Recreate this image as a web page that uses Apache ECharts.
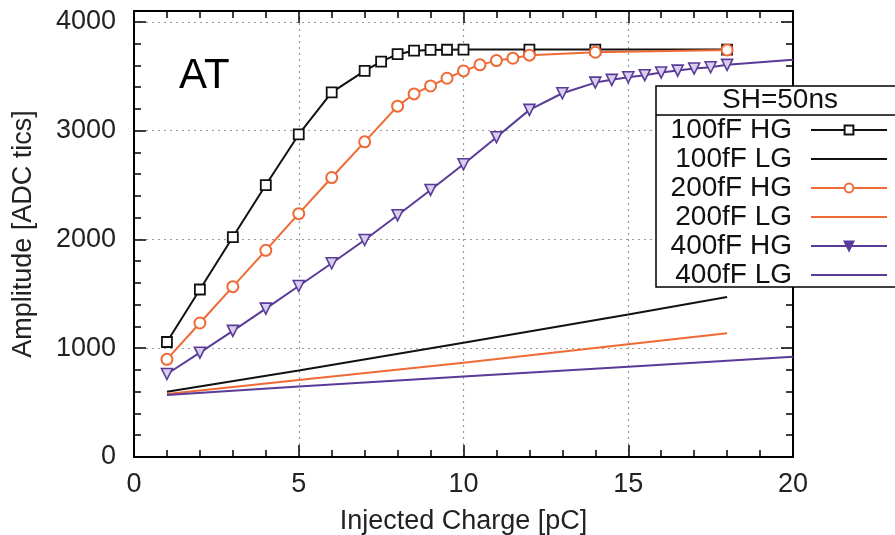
<!DOCTYPE html>
<html>
<head>
<meta charset="utf-8">
<script src="https://cdn.jsdelivr.net/npm/echarts@6/dist/echarts.min.js"></script>
<style>html,body{margin:0;padding:0;background:#fff}#c{width:895px;height:535px}</style>
</head>
<body>
<div id="c"></div>
<script>
// ---- data ----
const hg100X = [1,2,3,4,5,6,7,7.5,8,8.5,9,9.5,10,12,14,18];
const hg100Y = [1057,1540,2022,2500,2965,3352,3549,3634,3703,3735,3742,3744,3745,3745,3745,3745];
const lg100X = [1,5,10,15,18];
const lg100Y = [600,795,1050,1310,1470];
const hg200X = [1,2,3,4,5,6,7,8,8.5,9,9.5,10,10.5,11,11.5,12,14,18];
const hg200Y = [898,1232,1566,1900,2237,2569,2897,3225,3338,3411,3482,3549,3605,3644,3666,3694,3721,3742];
const lg200X = [1,5,10,15,18];
const lg200Y = [579,708,867,1036,1137];
const hg400X = [1,2,3,4,5,6,7,8,9,10,11,12,13,14,14.5,15,15.5,16,16.5,17,17.5,18,20];
const hg400Y = [763,959,1159,1364,1572,1781,1995,2222,2455,2691,2940,3191,3344,3442,3467,3491,3510,3534,3552,3571,3583,3605,3651];
const lg400X = [1,5,10,15,20];
const lg400Y = [570,647,739,830,922];
const seriesNames = ['100fF HG','100fF LG','200fF HG','200fF LG','400fF HG','400fF LG'];
const legendTitle = 'SH=50ns';
const plotLabel = 'AT';
const xTitle = 'Injected Charge [pC]';
const yTitle = 'Amplitude [ADC tics]';

const BLACK = '#111111', ORANGE = '#ef6a35', PURPLE = '#5a3b98';
const FONT = 'Liberation Sans';
const zip = (xs, ys) => xs.map((x, i) => [x, ys[i]]);

const chart = echarts.init(document.getElementById('c'), null, {renderer: 'canvas'});
const tickStyle = {show: true, inside: true, length: 12, lineStyle: {color: '#000', width: 1.5}};
const minorStyle = {show: true, splitNumber: 5, length: 7, lineStyle: {color: '#000', width: 1.5}};
const lineAx = {show: true, onZero: false, lineStyle: {color: '#000', width: 2}};
const splitDot = {show: true, lineStyle: {color: '#9a9a9a', width: 1.2, type: [2, 4]}};
const LINE_ICON = 'path://M0,0L76,0L76,2L0,2Z';

const hg400Data = zip(hg400X, hg400Y).map((p, i) => i === hg400X.length - 1 ? {value: p, symbol: 'none'} : p);

chart.setOption({
  animation: false,
  backgroundColor: '#fff',
  title: {text: plotLabel, left: 174, top: 50, textStyle: {fontFamily: FONT, fontSize: 42, fontWeight: 'normal', color: '#000'}},
  grid: {left: 134, right: 102, top: 11, bottom: 78, outerBoundsMode: 'none', containLabel: false},
  xAxis: [
    {type: 'value', min: 0, max: 20, interval: 5, position: 'bottom',
     name: xTitle, nameLocation: 'middle', nameGap: 51,
     nameTextStyle: {fontFamily: FONT, fontSize: 27, color: '#222'},
     axisLine: lineAx, axisTick: tickStyle, minorTick: minorStyle,
     axisLabel: {fontFamily: FONT, fontSize: 27, color: '#222', margin: 14},
     splitLine: splitDot},
    {type: 'value', min: 0, max: 20, interval: 5, position: 'top',
     axisLine: lineAx, axisTick: tickStyle, minorTick: minorStyle,
     axisLabel: {show: false}, splitLine: {show: false}}
  ],
  yAxis: [
    {type: 'value', min: 0, max: 4100, interval: 1000, position: 'left',
     name: yTitle, nameLocation: 'middle', nameGap: 97, nameRotate: 90,
     nameTextStyle: {fontFamily: FONT, fontSize: 27, color: '#222'},
     axisLine: lineAx, axisTick: tickStyle, minorTick: minorStyle,
     axisLabel: {fontFamily: FONT, fontSize: 27, color: '#222', margin: 18, formatter: v => String(v)},
     splitLine: splitDot},
    {type: 'value', min: 0, max: 4100, interval: 1000, position: 'right',
     axisLine: lineAx, axisTick: tickStyle, minorTick: minorStyle,
     axisLabel: {show: false}, splitLine: {show: false}}
  ],
  legend: {
    orient: 'vertical', align: 'right', right: 7, top: 116, z: 10,
    padding: 0, itemGap: 1, itemWidth: 76, itemHeight: 11,
    selectedMode: false,
    textStyle: {fontFamily: FONT, fontSize: 28, color: '#111', padding: [0, 14, 0, 0]},
    data: [
      {name: seriesNames[0]},
      {name: seriesNames[1], icon: LINE_ICON},
      {name: seriesNames[2]},
      {name: seriesNames[3], icon: LINE_ICON},
      {name: seriesNames[4], itemStyle: {color: PURPLE, borderColor: PURPLE}},
      {name: seriesNames[5], icon: LINE_ICON}
    ]
  },
  graphic: [
    {type: 'rect', z: 6, shape: {x: 656, y: 86, width: 260, height: 201},
     style: {fill: '#fff', stroke: '#000', lineWidth: 1.5}},
    {type: 'line', z: 7, shape: {x1: 656, y1: 115, x2: 895, y2: 115},
     style: {stroke: '#000', lineWidth: 1.5}},
    {type: 'text', z: 8, left: 722, top: 86,
     style: {text: legendTitle, font: '28px "Liberation Sans"', fill: '#111'}}
  ],
  series: [
    {name: seriesNames[0], type: 'line', data: zip(hg100X, hg100Y), symbol: 'rect', symbolSize: 10,
     lineStyle: {color: BLACK, width: 2}, itemStyle: {color: '#fff', borderColor: BLACK, borderWidth: 1.8}},
    {name: seriesNames[1], type: 'line', data: zip(lg100X, lg100Y), symbol: 'none',
     lineStyle: {color: BLACK, width: 2}, itemStyle: {color: BLACK}},
    {name: seriesNames[2], type: 'line', data: zip(hg200X, hg200Y), symbol: 'emptyCircle', symbolSize: 11,
     lineStyle: {color: ORANGE, width: 2}, itemStyle: {color: ORANGE, borderColor: ORANGE, borderWidth: 1.8}},
    {name: seriesNames[3], type: 'line', data: zip(lg200X, lg200Y), symbol: 'none',
     lineStyle: {color: ORANGE, width: 2}, itemStyle: {color: ORANGE}},
    {name: seriesNames[4], type: 'line', data: hg400Data, symbol: 'triangle', symbolRotate: 180, symbolSize: 11,
     lineStyle: {color: PURPLE, width: 2}, itemStyle: {color: '#d8cfee', borderColor: PURPLE, borderWidth: 1.6}},
    {name: seriesNames[5], type: 'line', data: zip(lg400X, lg400Y), symbol: 'none',
     lineStyle: {color: PURPLE, width: 2}, itemStyle: {color: PURPLE}}
  ]
});
</script>
</body>
</html>
